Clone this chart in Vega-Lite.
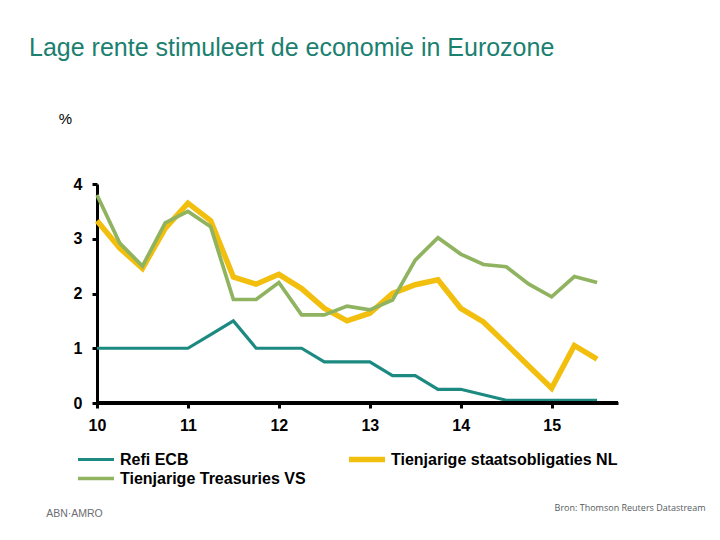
{
  "$schema": "https://vega.github.io/schema/vega-lite/v6.json",
  "autosize": {"type": "none"},
  "padding": {"left": 97, "top": 184, "right": 102, "bottom": 137},
  "width": 521,
  "height": 219,
  "background": "white",
  "title": {
    "text": "Lage rente stimuleert de economie in Eurozone",
    "anchor": "start",
    "frame": "group",
    "dx": -68,
    "offset": 50,
    "font": "Liberation Sans",
    "fontSize": 25,
    "fontWeight": "normal",
    "color": "#1b8070"
  },
  "config": {
    "view": {"stroke": null},
    "axis": {
      "grid": false,
      "domainColor": "black",
      "domainWidth": 3,
      "tickColor": "black",
      "tickWidth": 3,
      "tickSize": 5,
      "labelFont": "Liberation Sans",
      "labelFontWeight": "bold",
      "labelFontSize": 16,
      "labelColor": "black",
      "labelFlush": false
    },
    "legend": {
      "orient": "none",
      "direction": "horizontal",
      "legendX": -22,
      "legendY": 266,
      "columns": 2,
      "columnPadding": 40,
      "rowPadding": 0,
      "padding": 0,
      "clipHeight": 19,
      "symbolType": "stroke",
      "symbolSize": 1296,
      "labelFont": "Liberation Sans",
      "labelFontWeight": "bold",
      "labelFontSize": 16,
      "labelColor": "black",
      "labelOffset": 3,
      "labelLimit": 400
    }
  },
  "data": {"values": [
    {"t": 10, "series": "Refi ECB", "v": 1},
    {"t": 10.25, "series": "Refi ECB", "v": 1},
    {"t": 10.5, "series": "Refi ECB", "v": 1},
    {"t": 10.75, "series": "Refi ECB", "v": 1},
    {"t": 11, "series": "Refi ECB", "v": 1},
    {"t": 11.25, "series": "Refi ECB", "v": 1.25},
    {"t": 11.5, "series": "Refi ECB", "v": 1.5},
    {"t": 11.75, "series": "Refi ECB", "v": 1},
    {"t": 12, "series": "Refi ECB", "v": 1},
    {"t": 12.25, "series": "Refi ECB", "v": 1},
    {"t": 12.5, "series": "Refi ECB", "v": 0.75},
    {"t": 12.75, "series": "Refi ECB", "v": 0.75},
    {"t": 13, "series": "Refi ECB", "v": 0.75},
    {"t": 13.25, "series": "Refi ECB", "v": 0.5},
    {"t": 13.5, "series": "Refi ECB", "v": 0.5},
    {"t": 13.75, "series": "Refi ECB", "v": 0.25},
    {"t": 14, "series": "Refi ECB", "v": 0.25},
    {"t": 14.25, "series": "Refi ECB", "v": 0.15},
    {"t": 14.5, "series": "Refi ECB", "v": 0.05},
    {"t": 14.75, "series": "Refi ECB", "v": 0.05},
    {"t": 15, "series": "Refi ECB", "v": 0.05},
    {"t": 15.25, "series": "Refi ECB", "v": 0.05},
    {"t": 15.5, "series": "Refi ECB", "v": 0.05},
    {"t": 10, "series": "Tienjarige staatsobligaties NL", "v": 3.33},
    {"t": 10.25, "series": "Tienjarige staatsobligaties NL", "v": 2.83},
    {"t": 10.5, "series": "Tienjarige staatsobligaties NL", "v": 2.46},
    {"t": 10.75, "series": "Tienjarige staatsobligaties NL", "v": 3.19},
    {"t": 11, "series": "Tienjarige staatsobligaties NL", "v": 3.65},
    {"t": 11.25, "series": "Tienjarige staatsobligaties NL", "v": 3.33},
    {"t": 11.5, "series": "Tienjarige staatsobligaties NL", "v": 2.3},
    {"t": 11.75, "series": "Tienjarige staatsobligaties NL", "v": 2.17},
    {"t": 12, "series": "Tienjarige staatsobligaties NL", "v": 2.35},
    {"t": 12.25, "series": "Tienjarige staatsobligaties NL", "v": 2.09},
    {"t": 12.5, "series": "Tienjarige staatsobligaties NL", "v": 1.73},
    {"t": 12.75, "series": "Tienjarige staatsobligaties NL", "v": 1.5},
    {"t": 13, "series": "Tienjarige staatsobligaties NL", "v": 1.64},
    {"t": 13.25, "series": "Tienjarige staatsobligaties NL", "v": 2.0},
    {"t": 13.5, "series": "Tienjarige staatsobligaties NL", "v": 2.16},
    {"t": 13.75, "series": "Tienjarige staatsobligaties NL", "v": 2.25},
    {"t": 14, "series": "Tienjarige staatsobligaties NL", "v": 1.73},
    {"t": 14.25, "series": "Tienjarige staatsobligaties NL", "v": 1.48},
    {"t": 14.5, "series": "Tienjarige staatsobligaties NL", "v": 1.08},
    {"t": 14.75, "series": "Tienjarige staatsobligaties NL", "v": 0.67},
    {"t": 15, "series": "Tienjarige staatsobligaties NL", "v": 0.27},
    {"t": 15.25, "series": "Tienjarige staatsobligaties NL", "v": 1.05},
    {"t": 15.5, "series": "Tienjarige staatsobligaties NL", "v": 0.8},
    {"t": 10, "series": "Tienjarige Treasuries VS", "v": 3.8},
    {"t": 10.25, "series": "Tienjarige Treasuries VS", "v": 2.92},
    {"t": 10.5, "series": "Tienjarige Treasuries VS", "v": 2.5},
    {"t": 10.75, "series": "Tienjarige Treasuries VS", "v": 3.29},
    {"t": 11, "series": "Tienjarige Treasuries VS", "v": 3.5},
    {"t": 11.25, "series": "Tienjarige Treasuries VS", "v": 3.22},
    {"t": 11.5, "series": "Tienjarige Treasuries VS", "v": 1.89},
    {"t": 11.75, "series": "Tienjarige Treasuries VS", "v": 1.89},
    {"t": 12, "series": "Tienjarige Treasuries VS", "v": 2.2},
    {"t": 12.25, "series": "Tienjarige Treasuries VS", "v": 1.61},
    {"t": 12.5, "series": "Tienjarige Treasuries VS", "v": 1.61},
    {"t": 12.75, "series": "Tienjarige Treasuries VS", "v": 1.77},
    {"t": 13, "series": "Tienjarige Treasuries VS", "v": 1.7},
    {"t": 13.25, "series": "Tienjarige Treasuries VS", "v": 1.88},
    {"t": 13.5, "series": "Tienjarige Treasuries VS", "v": 2.61},
    {"t": 13.75, "series": "Tienjarige Treasuries VS", "v": 3.02},
    {"t": 14, "series": "Tienjarige Treasuries VS", "v": 2.72},
    {"t": 14.25, "series": "Tienjarige Treasuries VS", "v": 2.53},
    {"t": 14.5, "series": "Tienjarige Treasuries VS", "v": 2.49},
    {"t": 14.75, "series": "Tienjarige Treasuries VS", "v": 2.17},
    {"t": 15, "series": "Tienjarige Treasuries VS", "v": 1.94},
    {"t": 15.25, "series": "Tienjarige Treasuries VS", "v": 2.31},
    {"t": 15.5, "series": "Tienjarige Treasuries VS", "v": 2.2}
  ]},
  "resolve": {"scale": {"y": "independent"}},
  "layer": [
    {
      "mark": {"type": "line"},
      "encoding": {
        "x": {
          "field": "t",
          "type": "quantitative",
          "scale": {"domain": [10, 15.73], "nice": false, "zero": false},
          "axis": {
            "values": [10, 11, 12, 13, 14, 15],
            "format": "d",
            "labelPadding": 9,
            "title": "Bron: Thomson Reuters Datastream",
            "titleX": 608,
            "titleY": 104,
            "titleAlign": "right",
            "titleBaseline": "middle",
            "titleFont": "Open Sans",
            "titleFontSize": 9,
            "titleFontWeight": "normal",
            "titleColor": "#555b60"
          }
        },
        "y": {
          "field": "v",
          "type": "quantitative",
          "scale": {"domain": [0, 4], "nice": false},
          "axis": {
            "values": [0, 1, 2, 3, 4],
            "labelPadding": 10,
            "title": "%",
            "titleAngle": 0,
            "titleX": -32,
            "titleY": -66,
            "titleAlign": "center",
            "titleBaseline": "middle",
            "titleFont": "Liberation Sans",
            "titleFontSize": 15,
            "titleFontWeight": "normal",
            "titleColor": "black"
          }
        },
        "color": {
          "field": "series",
          "type": "nominal",
          "scale": {
            "domain": ["Refi ECB", "Tienjarige staatsobligaties NL", "Tienjarige Treasuries VS"],
            "range": ["#1d8a82", "#f2bf0e", "#8fb35f"]
          },
          "legend": {"title": null}
        },
        "strokeWidth": {
          "field": "series",
          "type": "nominal",
          "scale": {
            "type": "ordinal",
            "domain": ["Refi ECB", "Tienjarige staatsobligaties NL", "Tienjarige Treasuries VS"],
            "range": [3.2, 5.5, 3.7]
          },
          "legend": {"title": null}
        }
      }
    },
    {
      "mark": {"type": "rule", "color": "black", "strokeWidth": 3},
      "encoding": {
        "y": {
          "datum": 0,
          "type": "quantitative",
          "scale": {"domain": [0, 4], "nice": false},
          "axis": {
            "orient": "right",
            "labels": false,
            "ticks": false,
            "domain": false,
            "title": "ABN·AMRO",
            "titleAngle": 0,
            "titleX": -544,
            "titleY": 329,
            "titleAlign": "center",
            "titleBaseline": "middle",
            "titleFont": "Liberation Sans",
            "titleFontSize": 10.5,
            "titleFontWeight": "normal",
            "titleColor": "#6d6e71"
          }
        }
      }
    }
  ]
}
